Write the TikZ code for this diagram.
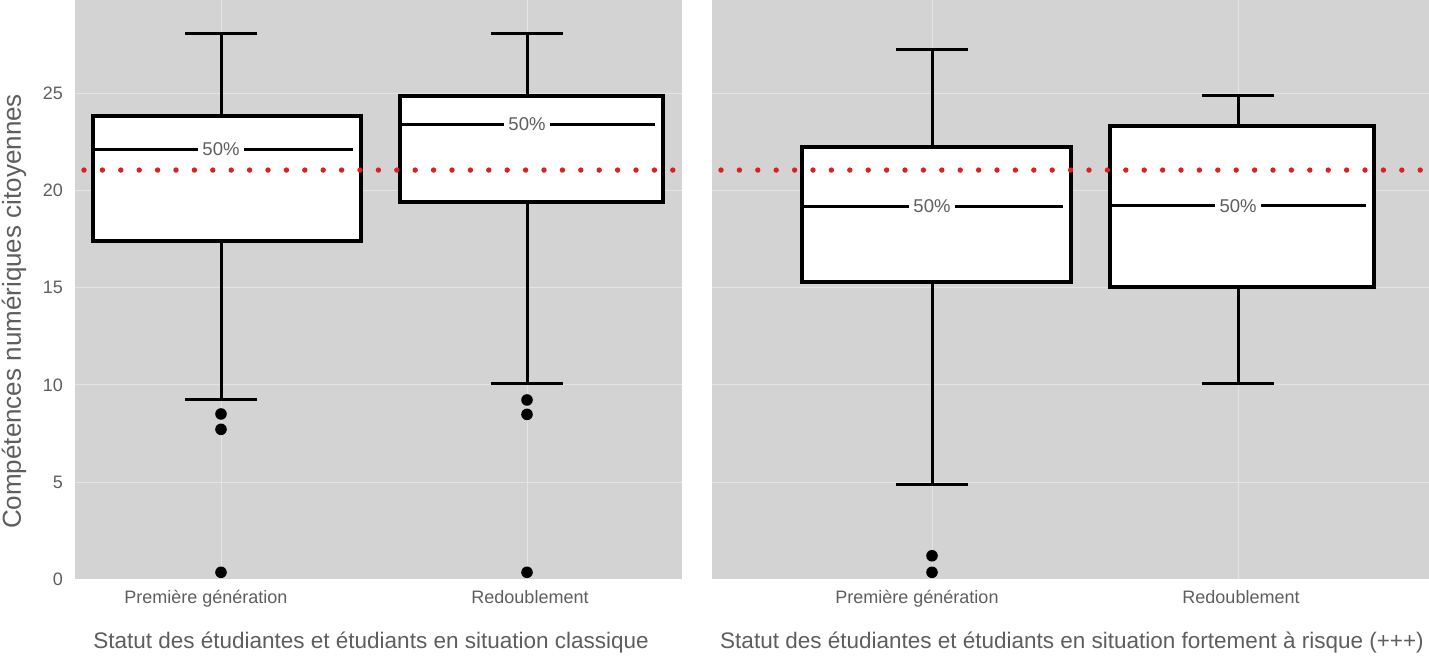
\documentclass[tikz,border=0pt]{standalone}
\usepackage{fontspec}
\setmainfont{Liberation Sans}
\usepackage{tikz}
\usetikzlibrary{positioning}
\usetikzlibrary{calc}
\definecolor{panelbg}{HTML}{D3D3D3}
\definecolor{gridln}{HTML}{E4E4E4}
\definecolor{axtext}{HTML}{5E5E5E}
\definecolor{meanred}{HTML}{D92121}

\begin{document}
\begin{tikzpicture}[
  x=0.5pt, y=9.725pt,
  panel/.style={
    fill=panelbg, draw=none},
  gridline/.style={
    draw=gridln, line width=0.5pt},
  whisk/.style={
    draw=black, line width=1.5pt},
  qbox/.style={
    draw=black, fill=white, line width=2pt},
  pct/.style={
    fill=white, text=axtext, inner sep=2.2pt,
    font=\fontsize{9.25}{10}\selectfont},
  outl/.style={
    circle, fill=black, inner sep=0pt, minimum size=5.8pt},
  meandot/.style={
    circle, fill=meanred, inner sep=0pt, minimum size=2.7pt},
  ticklab/.style={
    anchor=east, text=axtext, font=\fontsize{9}{10}\selectfont},
  catlab/.style={
    anchor=base, text=axtext, font=\fontsize{9}{10}\selectfont},
  axtitle/.style={
    anchor=base, text=axtext, font=\fontsize{11.25}{13}\selectfont},
]

  \def\ytop{29.794}%
  \def\ybot{-4.036}%
  \def\capw{36}%
  \def\meanval{21.05}%

  \useasboundingbox (0,\ybot) rectangle (1429,\ytop);

    % Panels
  \fill[panel] (75,0) rectangle (682,\ytop);
  \fill[panel] (712,0) rectangle (1429,\ytop);

    % Grid and axis
  \foreach \v in {5,10,...,25} {
    \draw[gridline] (75,\v) -- (682,\v);
    \draw[gridline] (712,\v) -- (1429,\v);
  }
  \foreach \v in {0,5,...,25} {
    \node[ticklab] (tk\v) at (70,\v) {\v};
  }
  \foreach \xw in {221,527,932,1238} {
    \draw[gridline] (\xw,0) -- (\xw,\ytop);
  }

  \node[text=axtext, rotate=90, font=\fontsize{13}{15}\selectfont] (ytitle)
      at (14,13.78) {Compétences numériques citoyennes};

    % Box plots
  \foreach \nm/\xl/\xr/\xw/\lo/\qa/\md/\qb/\hi in {
      pga/93/361/221/9.23/17.42/22.13/23.83/28.08,
      rda/400/663/527/10.07/19.43/23.4/24.86/28.05,
      pgb/802/1071/932/4.86/15.31/19.2/22.25/27.26,
      rdb/1110/1374/1238/10.07/15.05/19.22/23.32/24.86} {
    \coordinate (\nm_lo) at (\xw,\lo);
    \coordinate (\nm_qa) at (\xw,\qa);
    \coordinate (\nm_qb) at (\xw,\qb);
    \coordinate (\nm_hi) at (\xw,\hi);

    \draw[whisk] (\nm_lo) -- (\nm_qa);
    \draw[whisk] (\nm_qb) -- (\nm_hi);
    \draw[whisk] ($(\nm_lo)+(-\capw,0)$) -- ($(\nm_lo)+(\capw,0)$);
    \draw[whisk] ($(\nm_hi)+(-\capw,0)$) -- ($(\nm_hi)+(\capw,0)$);

    \draw[qbox] (\xl,\qa) rectangle (\xr,\qb);
    \draw[whisk] (\xl,\md) -- (\xr-8,\md);
    \node[pct] (\nm_md) at (\xw,\md) {50\%};
  }

    % Outliers
  \foreach \nm/\xw/\v in {
      pga1/221/8.51, pga2/221/7.72, pga3/221/0.37,
      rda1/527/9.23, rda2/527/8.49, rda3/527/0.37,
      pgb1/932/1.22, pgb2/932/0.37} {
    \node[outl] (o_\nm) at (\xw,\v) {};
  }

    % Mean line
  \foreach \i in {0,...,32} {
    \node[meandot] (ml\i) at (84+18.4*\i,\meanval) {};
  }
  \foreach \i in {0,...,38} {
    \node[meandot] (mr\i) at (721+18.4*\i,\meanval) {};
  }

    % Labels
  \node[catlab] (cat_pga) at (206,-1.21) {Première génération};
  \node[catlab] (cat_rda) at (530,-1.21) {Redoublement};
  \node[catlab] (cat_pgb) at (917,-1.21) {Première génération};
  \node[catlab] (cat_rdb) at (1241,-1.21) {Redoublement};

  \node[axtitle] (xtitle_a) at (371,-3.57)
      {Statut des étudiantes et étudiants en situation classique};
  \node[axtitle] (xtitle_b) at (1072,-3.57)
      {Statut des étudiantes et étudiants en situation fortement à risque (+++)};

\end{tikzpicture}
\end{document}
